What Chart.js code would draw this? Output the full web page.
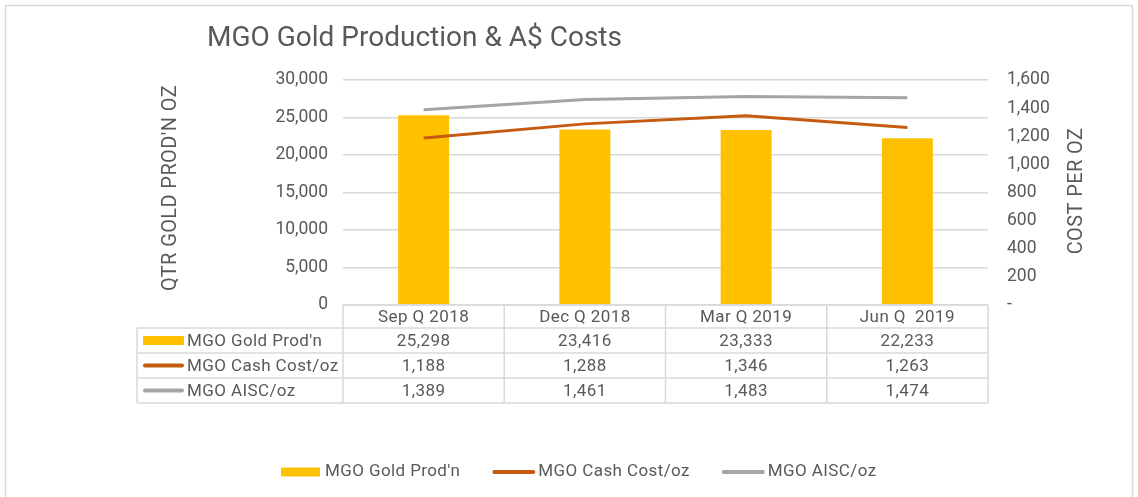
<!DOCTYPE html>
<html>
<head>
<meta charset="utf-8">
<script src="https://cdn.jsdelivr.net/npm/chart.js@4.4.0/dist/chart.umd.min.js"></script>
<style>
  html, body { margin: 0; padding: 0; background: #fff; }
</style>
</head>
<body>
<canvas id="Chart" width="1138" height="497"></canvas>
<script>
const labels = ["Sep Q 2018", "Dec Q 2018", "Mar Q 2019", "Jun Q  2019"];
const goldProd = [25298, 23416, 23333, 22233];
const cashCost = [1188, 1288, 1346, 1263];
const aiscCost = [1389, 1461, 1483, 1474];
const seriesNames = ["MGO Gold Prod'n", "MGO Cash Cost/oz", "MGO AISC/oz"];

const FONT = "Roboto, 'Noto Sans', sans-serif";
const GREY_TEXT = "#595959";
const GRID = "#d9d9d9";

const fmt = v => v.toLocaleString("en-US");

// draws one series marker (bar swatch or line swatch)
function drawSwatch(ctx, ds, x, y, w) {
  ctx.save();
  if (ds.type === "bar") {
    ctx.fillStyle = ds.backgroundColor;
    ctx.fillRect(x, y - 4.5, w, 9);
  } else {
    ctx.strokeStyle = ds.borderColor;
    ctx.lineWidth = 4;
    ctx.lineCap = "round";
    ctx.beginPath();
    ctx.moveTo(x + 2, y);
    ctx.lineTo(x + w - 2, y);
    ctx.stroke();
  }
  ctx.restore();
}

function vText(ctx, text, x, y) {
  ctx.save();
  ctx.translate(x, y);
  ctx.rotate(-Math.PI / 2);
  ctx.textAlign = "center";
  ctx.textBaseline = "middle";
  ctx.fillText(text, 0, 0);
  ctx.restore();
}

const extras = {
  id: "extras",
  beforeDraw(chart) {
    const ctx = chart.ctx;
    ctx.save();
    ctx.fillStyle = "#fff";
    ctx.fillRect(0, 0, chart.width, chart.height);
    ctx.strokeStyle = GRID;
    ctx.lineWidth = 1.5;
    ctx.strokeRect(5.5, 5.5, chart.width - 11, chart.height + 10);
    // title
    ctx.fillStyle = GREY_TEXT;
    ctx.font = "28px " + FONT;
    ctx.textBaseline = "middle";
    ctx.fillText("MGO Gold Production & A$ Costs", 207, 39);
    ctx.restore();
  },
  afterDraw(chart) {
    const ctx = chart.ctx;
    const xs = chart.scales.x;
    const area = chart.chartArea;
    const n = labels.length;
    const cw = (xs.right - xs.left) / n;
    const rowTop = area.bottom;
    const headH = 23, rowH = 25;
    const tableLeft = 137;
    const rows = [goldProd, cashCost, aiscCost];

    ctx.save();
    ctx.strokeStyle = GRID;
    ctx.lineWidth = 1.5;
    const bottom = rowTop + headH + rowH * rows.length;
    ctx.beginPath();
    ctx.moveTo(xs.left, rowTop); ctx.lineTo(xs.right, rowTop);
    for (let r = 0; r <= rows.length; r++) {
      const yy = rowTop + headH + r * rowH;
      ctx.moveTo(tableLeft, yy); ctx.lineTo(xs.right, yy);
    }
    for (let i = 0; i <= n; i++) {
      const xx = xs.left + i * cw;
      ctx.moveTo(xx, rowTop); ctx.lineTo(xx, bottom);
    }
    ctx.moveTo(tableLeft, rowTop + headH); ctx.lineTo(tableLeft, bottom);
    ctx.stroke();

    ctx.fillStyle = GREY_TEXT;
    ctx.font = "17px " + FONT;
    ctx.letterSpacing = "0.4px";
    ctx.textBaseline = "middle";
    ctx.textAlign = "center";
    labels.forEach((lab, i) => {
      ctx.fillText(lab, xs.getPixelForValue(i), rowTop + headH / 2 + 1);
    });
    rows.forEach((vals, r) => {
      const cy = rowTop + headH + r * rowH + rowH / 2 + 1;
      vals.forEach((v, i) => ctx.fillText(fmt(v), xs.getPixelForValue(i), cy));
      const ds = chart.data.datasets[r];
      drawSwatch(ctx, ds, 143, cy - 1, 41);
      ctx.textAlign = "left";
      ctx.fillText(ds.label, 187, cy);
      ctx.textAlign = "center";
    });

    // axis titles, both reading bottom to top
    ctx.font = "20px " + FONT;
    vText(ctx, "QTR GOLD PROD'N OZ", 171, 188);
    vText(ctx, "COST PER OZ", 1077, 191);

    // legend at the bottom
    ctx.font = "17px " + FONT;
    let lx = 281;
    const ly = 472;
    ctx.textAlign = "left";
    chart.data.datasets.forEach((ds) => {
      const sw = ds.type === "bar" ? 39 : 43;
      drawSwatch(ctx, ds, lx, ly, sw);
      lx += sw + (ds.type === "bar" ? 5 : 3);
      ctx.fillText(ds.label, lx, ly);
      lx += ctx.measureText(ds.label).width + 32;
    });
    ctx.restore();
  }
};

const config = {
  data: {
    labels: labels,
    datasets: [
      {
        type: "bar",
        label: seriesNames[0],
        data: goldProd,
        backgroundColor: "#FFC000",
        yAxisID: "y",
        barPercentage: 0.316,
        categoryPercentage: 1,
        order: 3
      },
      {
        type: "line",
        label: seriesNames[1],
        data: cashCost,
        borderColor: "#C55A11",
        backgroundColor: "#C55A11",
        borderWidth: 3,
        pointRadius: 0,
        tension: 0,
        yAxisID: "y1",
        order: 2
      },
      {
        type: "line",
        label: seriesNames[2],
        data: aiscCost,
        borderColor: "#A5A5A5",
        backgroundColor: "#A5A5A5",
        borderWidth: 3,
        pointRadius: 0,
        tension: 0,
        yAxisID: "y1",
        order: 1
      }
    ]
  },
  options: {
    responsive: false,
    devicePixelRatio: 1,
    animation: false,
    layout: { padding: { left: 158, right: 40, top: 80, bottom: 192 } },
    plugins: {
      legend: { display: false },
      title: { display: false },
      tooltip: { enabled: false }
    },
    scales: {
      x: { display: false },
      y: {
        position: "left",
        min: 0,
        max: 30000,
        ticks: {
          stepSize: 5000,
          padding: 15,
          color: GREY_TEXT,
          font: { family: FONT, size: 17.5 },
          callback: v => fmt(v)
        },
        grid: { color: GRID, lineWidth: 1.5, drawTicks: false },
        border: { display: false },
        afterFit: s => { s.width = 185; }
      },
      y1: {
        position: "right",
        min: 0,
        max: 1600,
        ticks: {
          stepSize: 200,
          padding: 19,
          color: GREY_TEXT,
          font: { family: FONT, size: 17.5 },
          callback: v => (v === 0 ? "-" : fmt(v))
        },
        grid: { display: false, drawTicks: false },
        border: { display: false },
        afterFit: s => { s.width = 110; }
      }
    }
  },
  plugins: [extras]
};

const myChart = new Chart(document.getElementById("Chart"), config);
</script>
</body>
</html>
